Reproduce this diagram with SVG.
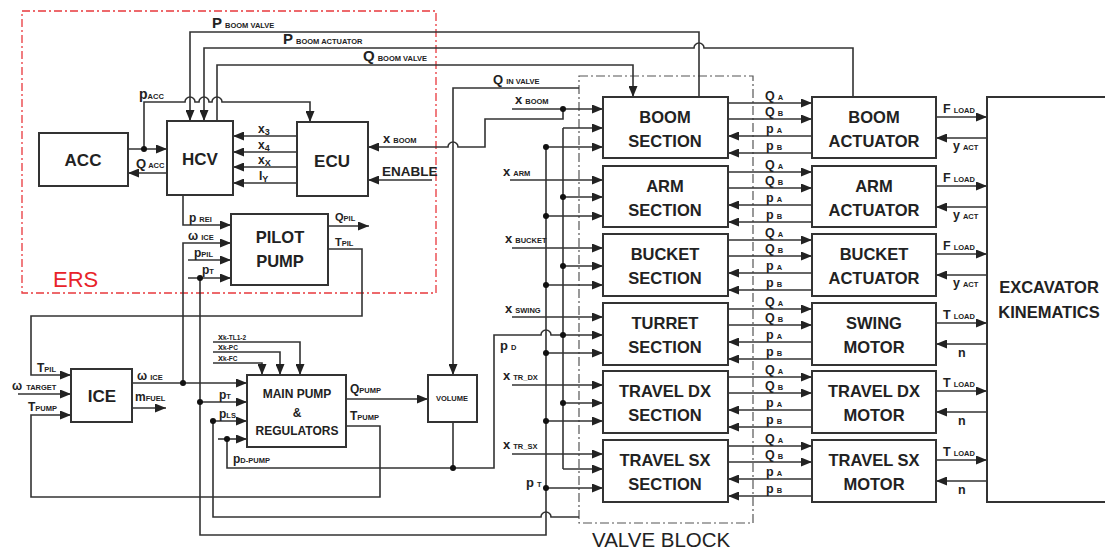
<svg xmlns="http://www.w3.org/2000/svg" width="1105" height="552" viewBox="0 0 1105 552">
<defs>
<marker id="ah" markerUnits="userSpaceOnUse" markerWidth="11" markerHeight="9" refX="11" refY="4.5" orient="auto"><path d="M0,0 L11,4.5 L0,9 z" fill="#222"/></marker>
<style>
.ln{fill:none;stroke:#333;stroke-width:1.6}
.ar{fill:none;stroke:#333;stroke-width:1.6;marker-end:url(#ah)}
.bx{fill:#fff;stroke:#333;stroke-width:2}
.dt{fill:#111}
.t{font-family:"Liberation Sans",Arial,sans-serif;font-weight:bold;fill:#222}
.big{font-size:16.5px;text-anchor:middle}
.mid{font-size:17px;text-anchor:middle}
.lb{font-size:12px}
.sm{font-size:10px}
.sub{font-size:7.5px}
.ss{font-size:6.5px}
</style>
</defs>
<rect width="1105" height="552" fill="#fff"/>

<!-- frames -->
<g id="ers">
<rect x="22" y="11" width="414" height="282" fill="none" stroke="#e8383d" stroke-width="1.3" stroke-dasharray="8,3,2,3"/>
<text x="53" y="287" font-family="Liberation Sans,Arial,sans-serif" font-size="22" fill="#e8232a">ERS</text>
</g>
<g id="valve-block">
<rect x="579" y="76" width="174" height="447" fill="none" stroke="#555" stroke-width="1.2" stroke-dasharray="9,3,2,3"/>
<text x="592" y="547" font-family="Liberation Sans,Arial,sans-serif" font-size="20.5" fill="#222">VALVE BLOCK</text>
</g>

<!-- connectors -->
<g id="connectors">
<!-- top feedback lines -->
<path class="ar" d="M699,97 V32 H190 V121"/>
<path class="ar" d="M853,97 V48 H704 A5,5 0 0 0 694,48 H204 V121"/>
<path class="ar" d="M217,121 V65 H633 V97"/>
<path class="ar" d="M144,149 V102 H185 A5,5 0 0 1 195,102 H199 A5,5 0 0 1 209,102 H212 A5,5 0 0 1 222,102 H310 V122"/>
<path class="ar" d="M128,149 H167"/>
<path class="ar" d="M167,173 H128"/>
<path class="ar" d="M297,136 H233"/>
<path class="ar" d="M297,152 H233"/>
<path class="ar" d="M297,167 H233"/>
<path class="ar" d="M297,183 H233"/>
<path class="ar" d="M563,109 V119 H485 V147 H458 A5,5 0 0 0 448,147 H368"/>
<path class="ar" d="M432,180 H368"/>
<path class="ar" d="M579,88 H453 V375"/>
<!-- valve block inputs -->
<path class="ar" d="M512,109 H603"/>
<path class="ar" d="M510,180 H603"/>
<path class="ar" d="M512,248 H603"/>
<path class="ar" d="M512,317 H603"/>
<path class="ar" d="M512,385 H603"/>
<path class="ar" d="M512,454 H603"/>
<path class="ln" d="M563,128 V469"/>
<path class="ar" d="M563,128 H603"/>
<path class="ar" d="M563,197 H603"/>
<path class="ar" d="M563,266 H603"/>
<path class="ar" d="M563,403 H603"/>
<path class="ar" d="M563,469 H603"/>
<path class="ar" d="M227,439 V468 H494 V335 H541 A5,5 0 0 1 551,335 H603"/>
<path class="ln" d="M453,422 V468"/>
<path class="ln" d="M546,147 V535 H200 V278"/>
<path class="ar" d="M546,147 H603"/>
<path class="ar" d="M546,216 H603"/>
<path class="ar" d="M546,285 H603"/>
<path class="ar" d="M546,353 H603"/>
<path class="ar" d="M546,421 H603"/>
<path class="ar" d="M546,488 H603"/>
<!-- pilot pump -->
<path class="ar" d="M183,195 V225 H231"/>
<path class="ar" d="M183,383 V243 H231"/>
<path class="ar" d="M188,260 H231"/>
<path class="ar" d="M188,278 H231"/>
<path class="ar" d="M328,226 H369"/>
<path class="ar" d="M328,249 H362 V316 H31 V375 H71"/>
<!-- ICE -->
<path class="ar" d="M18,394 H71"/>
<path class="ar" d="M346,426 H380 V497 H31 V415 H71"/>
<path class="ar" d="M132,383 H247"/>
<path class="ar" d="M132,408 H166"/>
<!-- main pump -->
<path class="ar" d="M200,402 H247"/>
<path class="ar" d="M210,421 H247"/>
<path class="ln" d="M213,421 V517 H541 A5,5 0 0 1 551,517 H579"/>
<path class="ar" d="M218,439 H247"/>
<path class="ar" d="M213,342 H300 V375"/>
<path class="ar" d="M213,352 H280 V375"/>
<path class="ar" d="M213,363 H262 V375"/>
<path class="ar" d="M346,399 H428"/>
<!-- section to actuator, actuator to kinematics -->
<g id="row-links">
<path class="ar" d="M728,103 H812"/><path class="ar" d="M728,119 H812"/><path class="ar" d="M812,136 H728"/><path class="ar" d="M812,153 H728"/>
<path class="ar" d="M728,172 H812"/><path class="ar" d="M728,188 H812"/><path class="ar" d="M812,205 H728"/><path class="ar" d="M812,222 H728"/>
<path class="ar" d="M728,240 H812"/><path class="ar" d="M728,256 H812"/><path class="ar" d="M812,273 H728"/><path class="ar" d="M812,290 H728"/>
<path class="ar" d="M728,309 H812"/><path class="ar" d="M728,325 H812"/><path class="ar" d="M812,342 H728"/><path class="ar" d="M812,359 H728"/>
<path class="ar" d="M728,377 H812"/><path class="ar" d="M728,393 H812"/><path class="ar" d="M812,410 H728"/><path class="ar" d="M812,427 H728"/>
<path class="ar" d="M728,446 H812"/><path class="ar" d="M728,462 H812"/><path class="ar" d="M812,479 H728"/><path class="ar" d="M812,496 H728"/>
<path class="ar" d="M936,117 H987"/><path class="ar" d="M987,138 H936"/>
<path class="ar" d="M936,186 H987"/><path class="ar" d="M987,207 H936"/>
<path class="ar" d="M936,254 H987"/><path class="ar" d="M987,275 H936"/>
<path class="ar" d="M936,323 H987"/><path class="ar" d="M987,344 H936"/>
<path class="ar" d="M936,391 H987"/><path class="ar" d="M987,412 H936"/>
<path class="ar" d="M936,460 H987"/><path class="ar" d="M987,481 H936"/>
</g>
<!-- dots -->
<g class="dt">
<circle cx="144" cy="149" r="3"/><circle cx="563" cy="109" r="3"/><circle cx="546" cy="147" r="3"/>
<circle cx="563" cy="197" r="3"/><circle cx="563" cy="266" r="3"/><circle cx="563" cy="335" r="3"/><circle cx="563" cy="403" r="3"/>
<circle cx="546" cy="216" r="3"/><circle cx="546" cy="285" r="3"/><circle cx="546" cy="353" r="3"/><circle cx="546" cy="421" r="3"/><circle cx="546" cy="488" r="3"/>
<circle cx="453" cy="468" r="3"/><circle cx="183" cy="383" r="3"/><circle cx="200" cy="278" r="3"/><circle cx="200" cy="402" r="3"/>
<circle cx="213" cy="421" r="3"/><circle cx="227" cy="439" r="3"/>
</g>
<!-- connector labels -->
<g class="t">
<text x="212" y="28" font-size="15">P<tspan class="sub" dx="3">BOOM VALVE</tspan></text>
<text x="283" y="44" font-size="15">P<tspan class="sub" dx="3">BOOM ACTUATOR</tspan></text>
<text x="363" y="61" font-size="15">Q<tspan class="sub" dx="3">BOOM VALVE</tspan></text>
<text x="139" y="99" font-size="14">p<tspan class="sub">ACC</tspan></text>
<text x="136" y="168" font-size="13">Q<tspan class="sub" dx="2">ACC</tspan></text>
<text x="258" y="133" class="lb">x<tspan font-size="9" dy="2">3</tspan></text>
<text x="258" y="149" class="lb">x<tspan font-size="9" dy="2">4</tspan></text>
<text x="258" y="164" class="lb">x<tspan font-size="9" dy="2">X</tspan></text>
<text x="259" y="180" class="lb">I<tspan font-size="9" dy="2">Y</tspan></text>
<text x="383" y="143" font-size="13">x<tspan class="sub" dx="3">BOOM</tspan></text>
<text x="382" y="176" font-size="13.5">ENABLE</text>
<text x="493" y="84" font-size="13">Q<tspan class="sub" dx="3">IN VALVE</tspan></text>
<text x="515" y="104" font-size="13">x<tspan class="sub" dx="3">BOOM</tspan></text>
<text x="503" y="176" font-size="13">x<tspan class="sub" dx="3">ARM</tspan></text>
<text x="505" y="243" font-size="13">x<tspan class="sub" dx="3">BUCKET</tspan></text>
<text x="505" y="313" font-size="13">x<tspan class="sub" dx="3">SWING</tspan></text>
<text x="503" y="380" font-size="13">x<tspan class="sub" dx="3">TR_DX</tspan></text>
<text x="503" y="449" font-size="13">x<tspan class="sub" dx="3">TR_SX</tspan></text>
<text x="500" y="350" font-size="13">p<tspan class="sub" dx="3">D</tspan></text>
<text x="526" y="487" font-size="13">p<tspan class="sub" dx="3">T</tspan></text>
<text x="189" y="222" font-size="12">p<tspan class="sub" dx="3">REI</tspan></text>
<text x="188" y="240" font-size="12">ω<tspan class="sub" dx="3">ICE</tspan></text>
<text x="194" y="257" font-size="12">p<tspan class="sub">PIL</tspan></text>
<text x="202" y="274" font-size="12">p<tspan class="sub">T</tspan></text>
<text x="335" y="221" font-size="11">Q<tspan class="sub">PIL</tspan></text>
<text x="335" y="246" font-size="11">T<tspan class="sub">PIL</tspan></text>
<text x="37" y="372" font-size="12">T<tspan class="sub">PIL</tspan></text>
<text x="12" y="390" font-size="12">ω<tspan class="sub" dx="4">TARGET</tspan></text>
<text x="28" y="411" font-size="12">T<tspan class="sub">PUMP</tspan></text>
<text x="137" y="380" font-size="12">ω<tspan class="sub" dx="3">ICE</tspan></text>
<text x="135" y="401" font-size="12">m<tspan class="sub">FUEL</tspan></text>
<text x="219" y="399" font-size="12">p<tspan class="sub">T</tspan></text>
<text x="219" y="418" font-size="12">p<tspan class="sub">LS</tspan></text>
<text x="233" y="463" font-size="12">p<tspan class="sub">D-PUMP</tspan></text>
<text x="218" y="340" font-size="9">x<tspan class="ss">k-TL1-2</tspan></text>
<text x="218" y="350" font-size="9">x<tspan class="ss">k-PC</tspan></text>
<text x="218" y="361" font-size="9">x<tspan class="ss">k-FC</tspan></text>
<text x="350" y="393" font-size="12">Q<tspan class="sub">PUMP</tspan></text>
<text x="350" y="420" font-size="12">T<tspan class="sub">PUMP</tspan></text>
</g>
<g class="t" font-size="12.5">
<text x="765" y="100">Q<tspan class="sub" dx="3">A</tspan></text><text x="765" y="116">Q<tspan class="sub" dx="3">B</tspan></text><text x="766" y="133">p<tspan class="sub" dx="3">A</tspan></text><text x="766" y="150">p<tspan class="sub" dx="3">B</tspan></text>
<text x="765" y="169">Q<tspan class="sub" dx="3">A</tspan></text><text x="765" y="185">Q<tspan class="sub" dx="3">B</tspan></text><text x="766" y="202">p<tspan class="sub" dx="3">A</tspan></text><text x="766" y="219">p<tspan class="sub" dx="3">B</tspan></text>
<text x="765" y="237">Q<tspan class="sub" dx="3">A</tspan></text><text x="765" y="253">Q<tspan class="sub" dx="3">B</tspan></text><text x="766" y="270">p<tspan class="sub" dx="3">A</tspan></text><text x="766" y="287">p<tspan class="sub" dx="3">B</tspan></text>
<text x="765" y="306">Q<tspan class="sub" dx="3">A</tspan></text><text x="765" y="322">Q<tspan class="sub" dx="3">B</tspan></text><text x="766" y="339">p<tspan class="sub" dx="3">A</tspan></text><text x="766" y="356">p<tspan class="sub" dx="3">B</tspan></text>
<text x="765" y="374">Q<tspan class="sub" dx="3">A</tspan></text><text x="765" y="390">Q<tspan class="sub" dx="3">B</tspan></text><text x="766" y="407">p<tspan class="sub" dx="3">A</tspan></text><text x="766" y="424">p<tspan class="sub" dx="3">B</tspan></text>
<text x="765" y="443">Q<tspan class="sub" dx="3">A</tspan></text><text x="765" y="459">Q<tspan class="sub" dx="3">B</tspan></text><text x="766" y="476">p<tspan class="sub" dx="3">A</tspan></text><text x="766" y="493">p<tspan class="sub" dx="3">B</tspan></text>
<text x="943" y="113">F<tspan class="sub" dx="3">LOAD</tspan></text><text x="953" y="150">y<tspan class="sub" dx="3">ACT</tspan></text>
<text x="943" y="182">F<tspan class="sub" dx="3">LOAD</tspan></text><text x="953" y="219">y<tspan class="sub" dx="3">ACT</tspan></text>
<text x="943" y="250">F<tspan class="sub" dx="3">LOAD</tspan></text><text x="953" y="287">y<tspan class="sub" dx="3">ACT</tspan></text>
<text x="943" y="319">T<tspan class="sub" dx="3">LOAD</tspan></text><text x="958" y="357">n</text>
<text x="943" y="387">T<tspan class="sub" dx="3">LOAD</tspan></text><text x="958" y="425">n</text>
<text x="943" y="456">T<tspan class="sub" dx="3">LOAD</tspan></text><text x="958" y="494">n</text>
</g>
</g>

<!-- nodes -->
<g id="acc"><rect class="bx" x="39" y="133" width="89" height="53"/><text class="t mid" x="83" y="166">ACC</text></g>
<g id="hcv"><rect class="bx" x="167" y="121" width="66" height="74"/><text class="t mid" x="200" y="165" font-size="18">HCV</text></g>
<g id="ecu"><rect class="bx" x="297" y="122" width="71" height="74"/><text class="t mid" x="332" y="167" font-size="18">ECU</text></g>
<g id="pilot-pump"><rect class="bx" x="231" y="214" width="97" height="71"/><text class="t big" x="280" y="243">PILOT</text><text class="t big" x="280" y="267">PUMP</text></g>
<g id="ice"><rect class="bx" x="71" y="369" width="61" height="53"/><text class="t mid" x="102" y="402" font-size="18">ICE</text></g>
<g id="main-pump"><rect class="bx" x="247" y="375" width="99" height="72"/>
<text class="t" text-anchor="middle" font-size="12" x="297" y="398">MAIN PUMP</text><text class="t" text-anchor="middle" font-size="12" x="297" y="417">&amp;</text><text class="t" text-anchor="middle" font-size="12" x="297" y="435">REGULATORS</text></g>
<g id="volume"><rect class="bx" x="428" y="375" width="49" height="47"/><text class="t" text-anchor="middle" font-size="7.5" x="452" y="401">VOLUME</text></g>

<g id="boom-section"><rect class="bx" x="603" y="97" width="125" height="61"/><text class="t big" x="665" y="123">BOOM</text><text class="t big" x="665" y="147">SECTION</text></g>
<g id="arm-section"><rect class="bx" x="603" y="166" width="125" height="61"/><text class="t big" x="665" y="192">ARM</text><text class="t big" x="665" y="216">SECTION</text></g>
<g id="bucket-section"><rect class="bx" x="603" y="234" width="125" height="62"/><text class="t big" x="665" y="260">BUCKET</text><text class="t big" x="665" y="284">SECTION</text></g>
<g id="turret-section"><rect class="bx" x="603" y="303" width="125" height="62"/><text class="t big" x="665" y="329">TURRET</text><text class="t big" x="665" y="353">SECTION</text></g>
<g id="travel-dx-section"><rect class="bx" x="603" y="371" width="125" height="62"/><text class="t big" x="665" y="397">TRAVEL DX</text><text class="t big" x="665" y="421">SECTION</text></g>
<g id="travel-sx-section"><rect class="bx" x="603" y="440" width="125" height="62"/><text class="t big" x="665" y="466">TRAVEL SX</text><text class="t big" x="665" y="490">SECTION</text></g>

<g id="boom-actuator"><rect class="bx" x="812" y="97" width="124" height="61"/><text class="t big" x="874" y="123">BOOM</text><text class="t big" x="874" y="147">ACTUATOR</text></g>
<g id="arm-actuator"><rect class="bx" x="812" y="166" width="124" height="61"/><text class="t big" x="874" y="192">ARM</text><text class="t big" x="874" y="216">ACTUATOR</text></g>
<g id="bucket-actuator"><rect class="bx" x="812" y="234" width="124" height="62"/><text class="t big" x="874" y="260">BUCKET</text><text class="t big" x="874" y="284">ACTUATOR</text></g>
<g id="swing-motor"><rect class="bx" x="812" y="303" width="124" height="62"/><text class="t big" x="874" y="329">SWING</text><text class="t big" x="874" y="353">MOTOR</text></g>
<g id="travel-dx-motor"><rect class="bx" x="812" y="371" width="124" height="62"/><text class="t big" x="874" y="397">TRAVEL DX</text><text class="t big" x="874" y="421">MOTOR</text></g>
<g id="travel-sx-motor"><rect class="bx" x="812" y="440" width="124" height="62"/><text class="t big" x="874" y="466">TRAVEL SX</text><text class="t big" x="874" y="490">MOTOR</text></g>

<g id="excavator-kinematics"><rect class="bx" x="987" y="97" width="140" height="405"/><text class="t" text-anchor="middle" font-size="16.5" x="1049" y="293">EXCAVATOR</text><text class="t" text-anchor="middle" font-size="16.5" x="1049" y="318">KINEMATICS</text></g>
</svg>
